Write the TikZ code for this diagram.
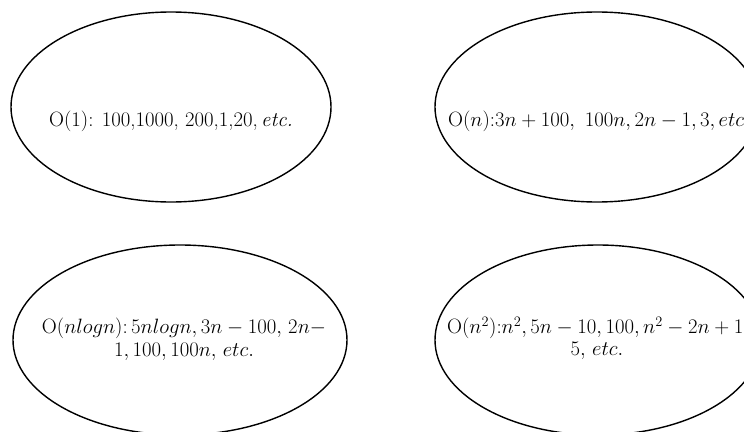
\documentclass[tikz,border=0pt]{standalone}
\usetikzlibrary{shapes.geometric}
\begin{document}
\begin{tikzpicture}[x=1pt,y=-1pt,
  bubble/.style={draw, ellipse, line width=1.4pt, inner sep=0pt,
    minimum height=190pt},
  caption/.style={align=center, inner sep=0pt,
    font=\fontsize{20.74}{23}\selectfont}]
\useasboundingbox (0,0) rectangle (744,431);
\clip (0,0) rectangle (744,431);
% the four growth classes
\node[bubble, minimum width=320pt] (c1) at (171,107) {};
\node[bubble, minimum width=324pt] (cn) at (597,107) {};
\node[bubble, minimum width=334pt] (cnlog) at (180,340) {};
\node[bubble, minimum width=326pt] (cn2) at (598,340) {};
% their examples
\node[caption] (t1) at (171,121) {O(1): 100,1000, 200,1,20,\,\textit{etc.}};
\node[caption, anchor=west] (tn) at (448,121) {O$(n)$:$3n+100,\ 100n, 2n-1, 3, etc.$};
\node[caption] (tnlog) at (184,339) {O$(nlogn)$:\,$5nlogn, 3n-100,$ $2n-$\\ $1, 100, 100n,$ $etc.$};
\node[caption, anchor=west] (tn2) at (447,328) {O$(n^2)$:$n^2, 5n-10, 100, n^2-2n+1,$};
\node[caption] (tn2b) at (597,351) {$5,$ $etc.$};
\end{tikzpicture}
\end{document}
